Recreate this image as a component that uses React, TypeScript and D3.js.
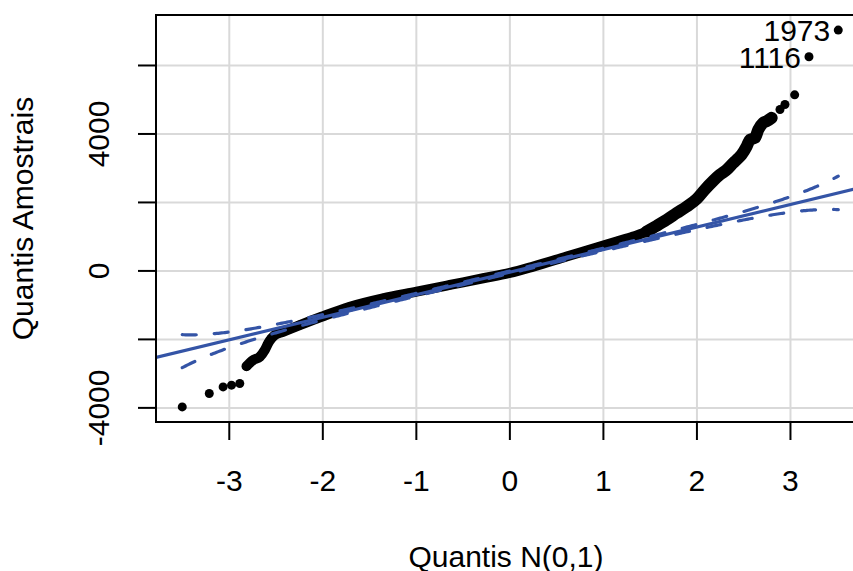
import React from "react";
import * as d3 from "d3";

// Theoretical N(0,1) quantiles and the matching ordered sample values
const normalQuantiles = [
  -3.503, -3.214, -3.066, -2.976, -2.888, -2.816, -2.745, -2.674, -2.62, -2.585,
  -2.549, -2.513, -2.425, -2.246, -2.014, -1.711, -1.358, -0.998, -0.642, -0.286,
  0, 0.249, 0.606, 0.963, 1.141, 1.319, 1.462, 1.569, 1.676, 1.783,
  1.89, 1.997, 2.086, 2.174, 2.246, 2.318, 2.388, 2.425, 2.478, 2.532,
  2.567, 2.62, 2.656, 2.706, 2.745, 2.799, 2.888, 2.941, 3.045, 3.198, 3.511,
];
const sampleQuantiles = [
  -3972, -3580, -3387, -3337, -3287, -2781, -2605, -2508, -2312, -2116,
  -1970, -1873, -1777, -1581, -1338, -1045, -800, -605, -410, -214,
  -59, 126, 419, 711, 858, 1004, 1150, 1317, 1493, 1689,
  1880, 2100, 2380, 2630, 2810, 2956, 3152, 3249, 3396, 3638,
  3834, 3884, 4127, 4323, 4370, 4470, 4713, 4859, 5143, 6255, 7034,
];

// Observations flagged by id
const pointLabels = ["1973", "1116"];
const pointLabelIndex = [50, 49];

// Index ranges where the points overlap into a solid band
const bandStart = 5;
const bandEnd = 45;
const steepStart = 26;

const xTicks = [-3, -2, -1, 0, 1, 2, 3];
const yTicks = [-4000, -2000, 0, 2000, 4000, 6000];
const yTickLabels = [-4000, 0, 4000];

// Reference line and pointwise 95% confidence envelope
const fitIntercept = -35;
const fitSlope = 659;
const sampleSize = 2215;
const envelopeCrit = 1.959964;

const W = 853;
const H = 571;
const plot = { left: 156, right: 864.5, top: 15, bottom: 422 };
const FONT = "'Liberation Sans', Arial, Helvetica, sans-serif";
const BLUE = "#3454a6";
const GRID = "#d9d9d9";

function dnorm(z: number) {
  return Math.exp(-0.5 * z * z) / Math.sqrt(2 * Math.PI);
}

// Upper-tail probability of N(0,1) at |z|
function upperTail(z: number) {
  const x = Math.abs(z) / Math.SQRT2;
  const t = 1 / (1 + 0.3275911 * x);
  const poly =
    t * (0.254829592 + t * (-0.284496736 + t * (1.421413741 + t * (-1.453152027 + t * 1.061405429))));
  return 0.5 * poly * Math.exp(-x * x);
}

function pad(ext: [number, number]): [number, number] {
  const r = ext[1] - ext[0];
  return [ext[0] - 0.04 * r, ext[1] + 0.04 * r];
}

type Pt = { z: number; v: number };

export default function App() {
  const zExt = d3.extent(normalQuantiles) as [number, number];
  const vExt = d3.extent(sampleQuantiles) as [number, number];
  const x = d3.scaleLinear().domain(pad(zExt)).range([plot.left, plot.right]);
  const y = d3.scaleLinear().domain(pad(vExt)).range([plot.bottom, plot.top]);

  const pts: Pt[] = normalQuantiles.map((z, i) => ({ z, v: sampleQuantiles[i] }));
  const bandLine = d3
    .line<Pt>()
    .x((d) => x(d.z))
    .y((d) => y(d.v))
    .curve(d3.curveMonotoneX);
  const bandPath = bandLine(pts.slice(bandStart, bandEnd + 1)) || "";
  const steepPath = bandLine(pts.slice(steepStart, bandEnd + 1)) || "";

  const grid = d3.range(0, 401).map((k) => zExt[0] + ((zExt[1] - zExt[0]) * k) / 400);
  const envelope = (sign: number) =>
    grid.map((z) => {
      const q = upperTail(z);
      const se = (fitSlope / dnorm(z)) * Math.sqrt((q * (1 - q)) / sampleSize);
      return [x(z), y(fitIntercept + fitSlope * z + sign * envelopeCrit * se)] as [number, number];
    });
  const lineGen = d3.line();

  const [d0, d1] = x.domain();

  return (
    <svg
      width={W}
      height={H}
      style={{ position: "absolute", left: 0, top: 0, background: "#fff" }}
      fontFamily={FONT}
    >
      <defs>
        <clipPath id="plotArea">
          <rect x={plot.left} y={plot.top} width={plot.right - plot.left} height={plot.bottom - plot.top} />
        </clipPath>
      </defs>
      <rect width={W} height={H} fill="#fff" />

      {/* grid */}
      <g stroke={GRID} strokeWidth={2}>
        {xTicks.map((t) => (
          <line key={"gx" + t} x1={x(t)} x2={x(t)} y1={plot.top} y2={plot.bottom} />
        ))}
        {yTicks.map((t) => (
          <line key={"gy" + t} x1={plot.left} x2={plot.right} y1={y(t)} y2={y(t)} />
        ))}
      </g>

      <g clipPath="url(#plotArea)">
        {/* sample quantiles */}
        <path d={bandPath} fill="none" stroke="#000" strokeWidth={10} strokeLinecap="round" strokeLinejoin="round" />
        <path d={steepPath} fill="none" stroke="#000" strokeWidth={12} strokeLinecap="round" strokeLinejoin="round" />
        {pts.map((p, i) => (
          <circle key={"p" + i} cx={x(p.z)} cy={y(p.v)} r={4.5} fill="#000" />
        ))}

        {/* reference line */}
        <line
          x1={x(d0)}
          x2={x(d1)}
          y1={y(fitIntercept + fitSlope * d0)}
          y2={y(fitIntercept + fitSlope * d1)}
          stroke={BLUE}
          strokeWidth={3.2}
        />
        {/* confidence envelope */}
        {[1, -1].map((s) => (
          <path
            key={"env" + s}
            d={lineGen(envelope(s)) || ""}
            fill="none"
            stroke={BLUE}
            strokeWidth={3.2}
            strokeDasharray="14 18"
            strokeLinecap="round"
          />
        ))}
      </g>

      {/* point ids */}
      {pointLabels.map((lab, k) => {
        const p = pts[pointLabelIndex[k]];
        return (
          <text key={lab} x={x(p.z) - 8} y={y(p.v)} dy="0.36em" textAnchor="end" fontSize={30} fill="#000">
            {lab}
          </text>
        );
      })}

      {/* box */}
      <rect
        x={plot.left}
        y={plot.top}
        width={plot.right - plot.left}
        height={plot.bottom - plot.top}
        fill="none"
        stroke="#000"
        strokeWidth={2}
      />

      {/* axes */}
      <g stroke="#000" strokeWidth={2}>
        {xTicks.map((t) => (
          <line key={"tx" + t} x1={x(t)} x2={x(t)} y1={plot.bottom} y2={plot.bottom + 18} />
        ))}
        {yTicks.map((t) => (
          <line key={"ty" + t} x1={plot.left} x2={plot.left - 18} y1={y(t)} y2={y(t)} />
        ))}
      </g>
      {xTicks.map((t) => (
        <text key={"lx" + t} x={x(t)} y={491} textAnchor="middle" fontSize={30} fill="#000">
          {t < 0 ? "-" + Math.abs(t) : String(t)}
        </text>
      ))}
      {yTickLabels.map((t) => (
        <text
          key={"ly" + t}
          transform={`translate(108.5,${y(t)}) rotate(-90)`}
          textAnchor="middle"
          fontSize={30}
          fill="#000"
        >
          {t < 0 ? "-" + Math.abs(t) : String(t)}
        </text>
      ))}

      {/* axis titles */}
      <text x={506} y={566.5} textAnchor="middle" fontSize={30} fill="#000">
        Quantis N(0,1)
      </text>
      <text transform={`translate(33,218.5) rotate(-90)`} textAnchor="middle" fontSize={30} fill="#000">
        Quantis Amostrais
      </text>
    </svg>
  );
}
